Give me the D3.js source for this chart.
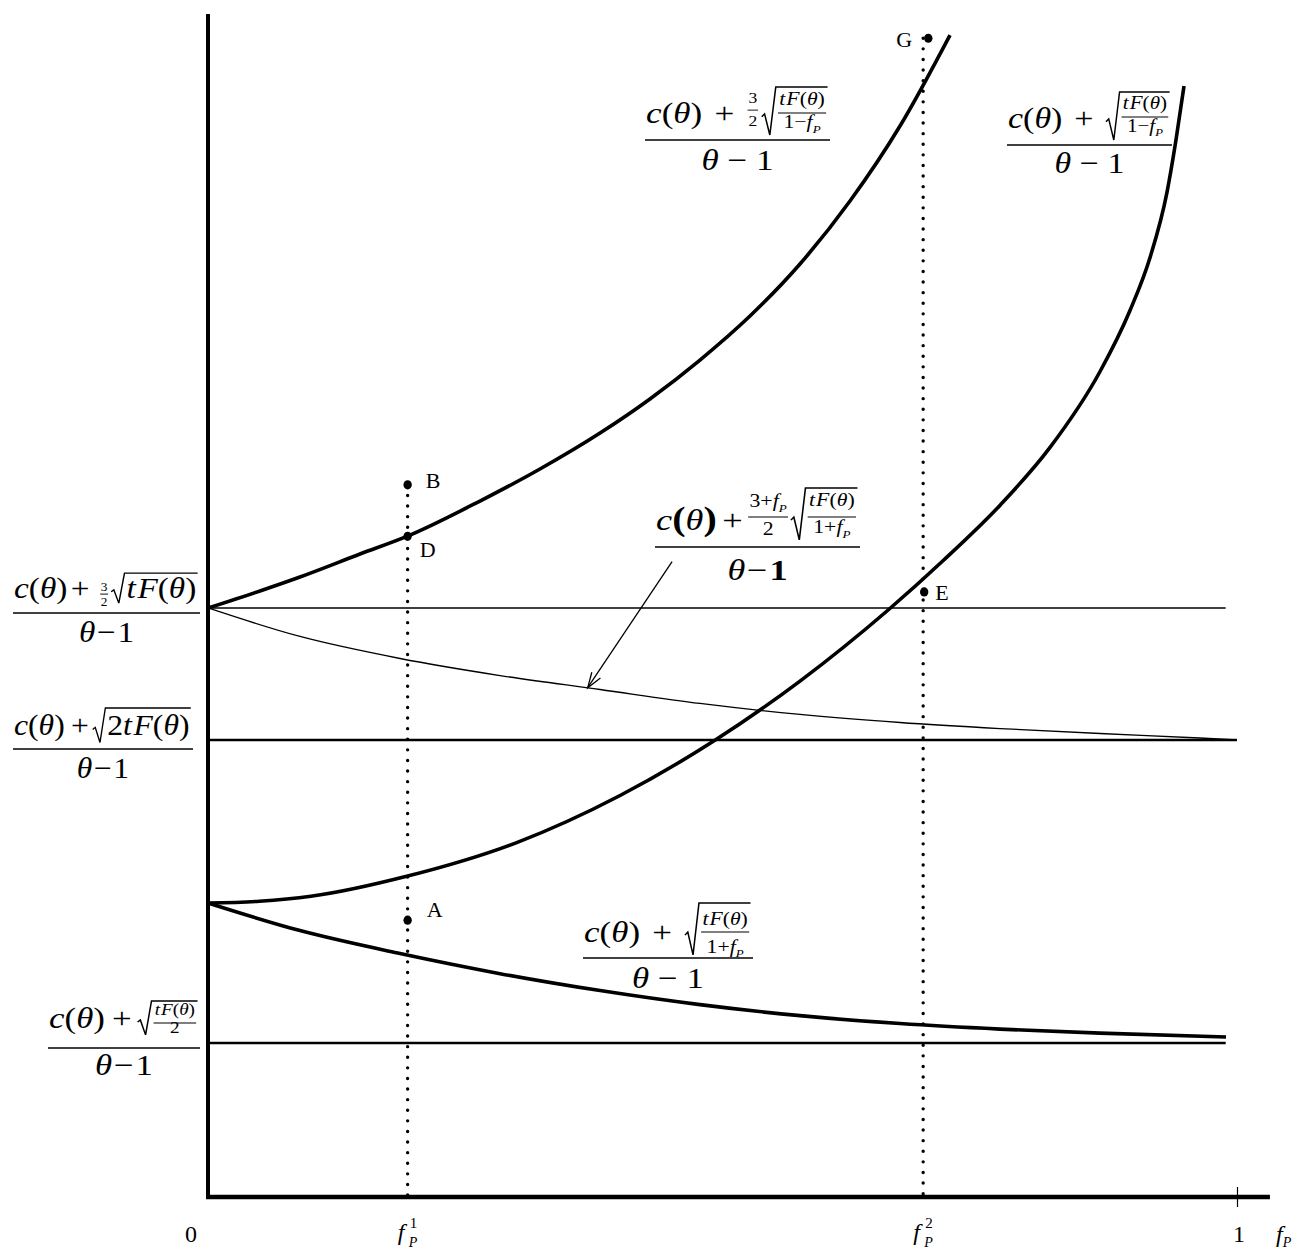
<!DOCTYPE html>
<html>
<head>
<meta charset="utf-8">
<script src="https://cdn.jsdelivr.net/npm/d3@7"></script>
<style>
  html, body { margin: 0; padding: 0; background: #fff; }
  svg { display: block; }
</style>
</head>
<body>
<script>
// Horizontal axis: share f_P (0..1). Vertical axis: price level, arbitrary units (0..100).

// Thick rising curve from the 3/2·sqrt(tF) level (through D)
const riseHighF = [0, 0.0505, 0.0894, 0.1477, 0.1944, 0.2643, 0.3226, 0.381, 0.4295, 0.4781, 0.5267, 0.5753, 0.6239, 0.6725, 0.7211];
const riseHighV = [49.79, 51.23, 52.41, 54.35, 55.88, 58.83, 61.54, 64.58, 67.46, 70.75, 74.47, 78.87, 84.19, 90.53, 98.22];

// Thick rising curve from the sqrt(tF) level
const riseLowF = [0, 0.05, 0.1, 0.194, 0.3, 0.4, 0.493, 0.575, 0.661, 0.714, 0.77, 0.8183, 0.8669, 0.896, 0.9155, 0.932, 0.9407, 0.9485];
const riseLowV = [24.85, 25.0, 25.42, 27.13, 29.96, 33.92, 38.63, 43.59, 49.62, 53.76, 58.5, 63.36, 69.78, 74.94, 79.42, 84.95, 89.35, 93.91];

// Thin falling curve from the 3/2·sqrt(tF) level towards the sqrt(2tF) level
const fallHighF = [0, 0.0894, 0.1866, 0.2838, 0.381, 0.4781, 0.5753, 0.6725, 0.7697, 0.8669, 0.964, 1.0];
const fallHighV = [49.79, 47.38, 45.52, 44.08, 42.9, 41.72, 40.79, 40.11, 39.6, 39.18, 38.8, 38.63];

// Thick falling curve from the sqrt(tF) level towards the sqrt(tF/2) level
const fallLowF = [0, 0.0894, 0.1866, 0.2838, 0.381, 0.4781, 0.5753, 0.6725, 0.7697, 0.8669, 0.9893];
const fallLowV = [24.85, 22.52, 20.58, 18.88, 17.45, 16.26, 15.33, 14.66, 14.19, 13.85, 13.53];

// Horizontal reference levels and where each one ends
const levelV = [49.79, 38.63, 13.02];
const levelEndF = [0.989, 1.0, 0.989];

// Marked points
const pointNames = ["B", "D", "A", "E", "G"];
const pointF = [0.194, 0.194, 0.194, 0.696, 0.70];
const pointV = [60.2, 55.85, 23.4, 51.15, 97.95];

// Dotted guides at f_P^1 and f_P^2
const guideF = [0.194, 0.695];
const guideTopV = [60.2, 97.95];
const guideSup = ["1", "2"];

// Pointer from the thin-curve formula to its curve
const arrowFrom = [0.451, 53.7];
const arrowTo = [0.369, 43.05];

const W = 1304, H = 1249;
const FONT = "'Liberation Serif','Times New Roman',serif";
const svg = d3.select("body").append("svg").attr("width", W).attr("height", H)
  .attr("font-family", FONT);
svg.append("rect").attr("width", W).attr("height", H).attr("fill", "#fff");

const x = d3.scaleLinear().domain([0, 1]).range([208, 1237]);
const y = d3.scaleLinear().domain([0, 100]).range([1197, 14]);

const line = d3.line().x(d => x(d[0])).y(d => y(d[1])).curve(d3.curveMonotoneX);
const zip = (a, b) => a.map((v, i) => [v, b[i]]);

// reference levels
const levelWidth = [1.3, 2.4, 2.4];
levelV.forEach((v, i) => {
  svg.append("line").attr("x1", x(0)).attr("x2", x(levelEndF[i]))
    .attr("y1", y(v)).attr("y2", y(v))
    .attr("stroke", "#000").attr("stroke-width", levelWidth[i]);
});

// curves
svg.append("path").attr("d", line(zip(fallHighF, fallHighV)))
  .attr("fill", "none").attr("stroke", "#000").attr("stroke-width", 1.3);
[[riseHighF, riseHighV], [riseLowF, riseLowV], [fallLowF, fallLowV]].forEach(([f, v]) => {
  svg.append("path").attr("d", line(zip(f, v)))
    .attr("fill", "none").attr("stroke", "#000").attr("stroke-width", 3.6);
});

// dotted guides
guideF.forEach((f, i) => {
  svg.append("line").attr("x1", x(f)).attr("x2", x(f))
    .attr("y1", y(guideTopV[i])).attr("y2", y(0))
    .attr("stroke", "#000").attr("stroke-width", 3.4)
    .attr("stroke-linecap", "round").attr("stroke-dasharray", "0,10.6");
});

// axes
svg.append("line").attr("x1", x(0)).attr("x2", x(0)).attr("y1", y(100)).attr("y2", y(0) + 2)
  .attr("stroke", "#000").attr("stroke-width", 4);
svg.append("line").attr("x1", x(0) - 2).attr("x2", x(1.032)).attr("y1", y(0)).attr("y2", y(0))
  .attr("stroke", "#000").attr("stroke-width", 4.5);
const ax = svg.append("g").attr("transform", `translate(0,${y(0) - 10})`)
  .call(d3.axisBottom(x).tickValues([1]).tickSize(20).tickFormat(""));
ax.select(".domain").remove();
ax.selectAll(".tick line").attr("stroke", "#000").attr("stroke-width", 1.2);

// point markers and letters
const letterPos = { B: [18, 3], D: [12, 21], A: [19, -3], E: [11, 8], G: [-32, 9] };
pointNames.forEach((n, i) => {
  const px = x(pointF[i]), py = y(pointV[i]);
  svg.append("ellipse").attr("cx", px).attr("cy", py).attr("rx", 4.2).attr("ry", 4.6).attr("fill", "#000");
  svg.append("text").attr("x", px + letterPos[n][0]).attr("y", py + letterPos[n][1])
    .attr("font-size", 22).text(n);
});

// arrow
{
  const x0 = x(arrowFrom[0]), y0 = y(arrowFrom[1]), x1 = x(arrowTo[0]), y1 = y(arrowTo[1]);
  svg.append("line").attr("x1", x0).attr("y1", y0).attr("x2", x1).attr("y2", y1)
    .attr("stroke", "#000").attr("stroke-width", 1.3);
  const a = Math.atan2(y0 - y1, x0 - x1), L = 16, s = 0.33;
  svg.append("path")
    .attr("d", `M${x1 + L * Math.cos(a - s)},${y1 + L * Math.sin(a - s)}L${x1},${y1}L${x1 + L * Math.cos(a + s)},${y1 + L * Math.sin(a + s)}`)
    .attr("fill", "none").attr("stroke", "#000").attr("stroke-width", 1.3);
}

// ---------- formula typesetting ----------
// items: string / {t,i,b,s,dy} text run, number = horizontal gap in em,
// {frac:[num,den], s, ax, nb, db} stacked fraction of runs,
// {stack:[top,bottom], ...} small numeric fraction set as one text element,
// {sqrt:items, top, bot} radical
function layout(parent, items, size) {
  const g = parent.append("g");
  let cx = 0;
  for (let it of items) {
    if (typeof it === "number") { cx += it * size; continue; }
    if (typeof it === "string") it = { t: it };
    if (it.frac) {
      const fs = size * (it.s || 1);
      const n = layout(g, it.frac[0], fs), d = layout(g, it.frac[1], fs);
      const w = Math.max(n.w, d.w) + 0.12 * fs;
      const by = -(it.ax ?? 0.3) * size;
      n.g.attr("transform", `translate(${cx + (w - n.w) / 2},${by - (it.nb ?? 0.25) * fs})`);
      d.g.attr("transform", `translate(${cx + (w - d.w) / 2},${by + (it.db ?? 0.85) * fs})`);
      g.append("line").attr("x1", cx).attr("x2", cx + w).attr("y1", by).attr("y2", by)
        .attr("stroke", "#000").attr("stroke-width", 1);
      cx += w;
    } else if (it.stack) {
      const fs = size * (it.s || 1);
      const by = -(it.ax ?? 0.3) * size;
      const t = g.append("text").attr("font-size", fs).attr("text-anchor", "middle");
      const a = t.append("tspan").text(it.stack[0]);
      const b = t.append("tspan").text(it.stack[1]);
      const w = Math.max(a.node().getComputedTextLength(), b.node().getComputedTextLength()) + 0.2 * fs;
      a.attr("x", cx + w / 2).attr("y", by - (it.nb ?? 0.2) * fs);
      b.attr("x", cx + w / 2).attr("y", by + (it.db ?? 0.8) * fs);
      g.append("line").attr("x1", cx + 0.05 * fs).attr("x2", cx + w - 0.05 * fs).attr("y1", by).attr("y2", by)
        .attr("stroke", "#000").attr("stroke-width", 0.9);
      cx += w;
    } else if (it.sqrt) {
      const inner = layout(g, it.sqrt, size);
      const rw = 0.42 * size;
      inner.g.attr("transform", `translate(${cx + rw + 0.06 * size},0)`);
      const yt = -(it.top ?? 0.95) * size, yb = (it.bot ?? 0.15) * size, h = yb - yt;
      const x0 = cx + 0.02 * size;
      g.append("path")
        .attr("d", `M${x0},${yb - 0.38 * h}L${x0 + 0.08 * size},${yb - 0.44 * h}L${x0 + 0.23 * size},${yb}L${cx + rw},${yt}L${cx + rw + 0.1 * size + inner.w},${yt}`)
        .attr("fill", "none").attr("stroke", "#000").attr("stroke-width", 1.3);
      cx += rw + 0.1 * size + inner.w + 0.04 * size;
    } else {
      const fs = size * (it.s || 1);
      const t = g.append("text").attr("x", cx).attr("y", (it.dy || 0) * size)
        .attr("font-size", fs)
        .attr("font-style", it.i ? "italic" : null)
        .attr("font-weight", it.b ? "bold" : null)
        .text(it.t);
      cx += t.node().getComputedTextLength();
    }
  }
  return { g, w: cx };
}

const S = 30;
function formula(x1, x2, barY, nb, db, num, den) {
  const outer = svg.append("g");
  const g = outer.append("g");
  const n = layout(g, num, S), d = layout(g, den, S);
  const w = Math.max(n.w, d.w) + 0.06 * S;
  n.g.attr("transform", `translate(${-n.w / 2},${-nb})`);
  d.g.attr("transform", `translate(${-d.w / 2},${db})`);
  g.append("line").attr("x1", -w / 2).attr("x2", w / 2).attr("y1", 0).attr("y2", 0)
    .attr("stroke", "#000").attr("stroke-width", 1.5);
  const sx = (x2 - x1) / w;
  outer.attr("transform", `translate(${(x1 + x2) / 2},${barY}) scale(${sx},1)`);
}

const th = { t: "θ", i: 1 };
const cth = [{ t: "c", i: 1 }, "(", th, ")"];
const tF = [{ t: "t", i: 1 }, 0.05, { t: "F", i: 1 }, "(", th, ")"];
const fP = [{ t: "f", i: 1 }, { t: "P", i: 1, s: 0.6, dy: 0.25 }];
const denWide = [th, 0.25, "−", 0.25, "1"];
const denTight = [th, 0.05, "−", 0.05, "1"];

// c + 3/2 sqrt(tF/(1-f)) over θ-1
formula(645, 830, 140, 17, 30,
  [...cth, 0.35, "+", 0.35, { stack: ["3", "2"], s: 0.5, ax: 0.43, nb: 0.45, db: 1.05 }, 0.06,
   { sqrt: [{ frac: [tF, ["1−", ...fP]], s: 0.62, ax: 0.33, nb: 0.42, db: 0.8 }], top: 1.2, bot: 0.4 }],
  denWide);

// c + sqrt(tF/(1-f)) over θ-1
formula(1007, 1172, 145, 17, 28,
  [...cth, 0.35, "+", 0.35,
   { sqrt: [{ frac: [tF, ["1−", ...fP]], s: 0.62, ax: 0.37, nb: 0.42, db: 0.8 }], top: 1.2, bot: 0.4 }],
  denWide);

// c + 3/2 sqrt(tF) over θ-1
formula(13, 200, 613, 15, 29,
  [...cth, 0.1, "+", 0.3, { stack: ["3", "2"], s: 0.4, ax: 0.13, nb: 0.24, db: 0.95 }, 0.05,
   { sqrt: tF, top: 0.83, bot: 0.17 }],
  denTight);

// c + sqrt(2tF) over θ-1
formula(13, 193, 749, 14, 29,
  [...cth, 0.2, "+", 0.1, { sqrt: ["2", ...tF], top: 0.9, bot: 0.25 }],
  denTight);

// c + sqrt(tF/2) over θ-1
formula(48, 200, 1048, 20, 27,
  [...cth, 0.2, "+", 0.15,
   { sqrt: [{ frac: [tF, ["2"]], s: 0.55, ax: 0.17, nb: 0.45, db: 0.62 }], top: 0.9, bot: 0.23 }],
  denTight);

// c + sqrt(tF/(1+f)) over θ-1
formula(583, 753, 958, 16, 30,
  [...cth, 0.35, "+", 0.35,
   { sqrt: [{ frac: [tF, ["1+", ...fP]], s: 0.62, ax: 0.33, nb: 0.38, db: 1.1 }], top: 1.3, bot: 0.43 }],
  denWide);

// c + (3+f)/2 sqrt(tF/(1+f)) over θ-1
formula(655, 860, 547, 17, 33,
  [{ t: "c", i: 1 }, { t: "(", b: 1, s: 1.1 }, th, { t: ")", b: 1, s: 1.1 }, 0.15, "+", 0.15,
   { frac: [["3+", ...fP], ["2"]], s: 0.6, ax: 0.43, nb: 0.55, db: 1.0 }, 0.06,
   { sqrt: [{ frac: [tF, ["1+", ...fP]], s: 0.6, ax: 0.43, nb: 0.62, db: 0.9 }], top: 1.4, bot: 0.33 }],
  [th, 0.05, "−", 0.05, { t: "1", b: 1 }]);

// ---------- axis labels ----------
const lab = svg.append("g").attr("font-size", 24);
lab.append("text").attr("x", x(0) - 17).attr("y", 1242).attr("text-anchor", "middle").text("0");
lab.append("text").attr("x", x(1) + 2).attr("y", 1242).attr("text-anchor", "middle").text("1");
{
  const t = lab.append("text").attr("x", 1276).attr("y", 1242);
  t.append("tspan").attr("font-style", "italic").text("f");
  t.append("tspan").attr("font-style", "italic").attr("font-size", 14).attr("dy", 5).text("P");
}
guideF.forEach((f, i) => {
  const gx = x(f);
  lab.append("text").attr("x", gx - 10).attr("y", 1240).attr("font-style", "italic").text("f");
  lab.append("text").attr("x", gx + 1).attr("y", 1247).attr("font-style", "italic").attr("font-size", 14).text("P");
  lab.append("text").attr("x", gx + 2).attr("y", 1228).attr("font-size", 15).text(guideSup[i]);
});
</script>
</body>
</html>
